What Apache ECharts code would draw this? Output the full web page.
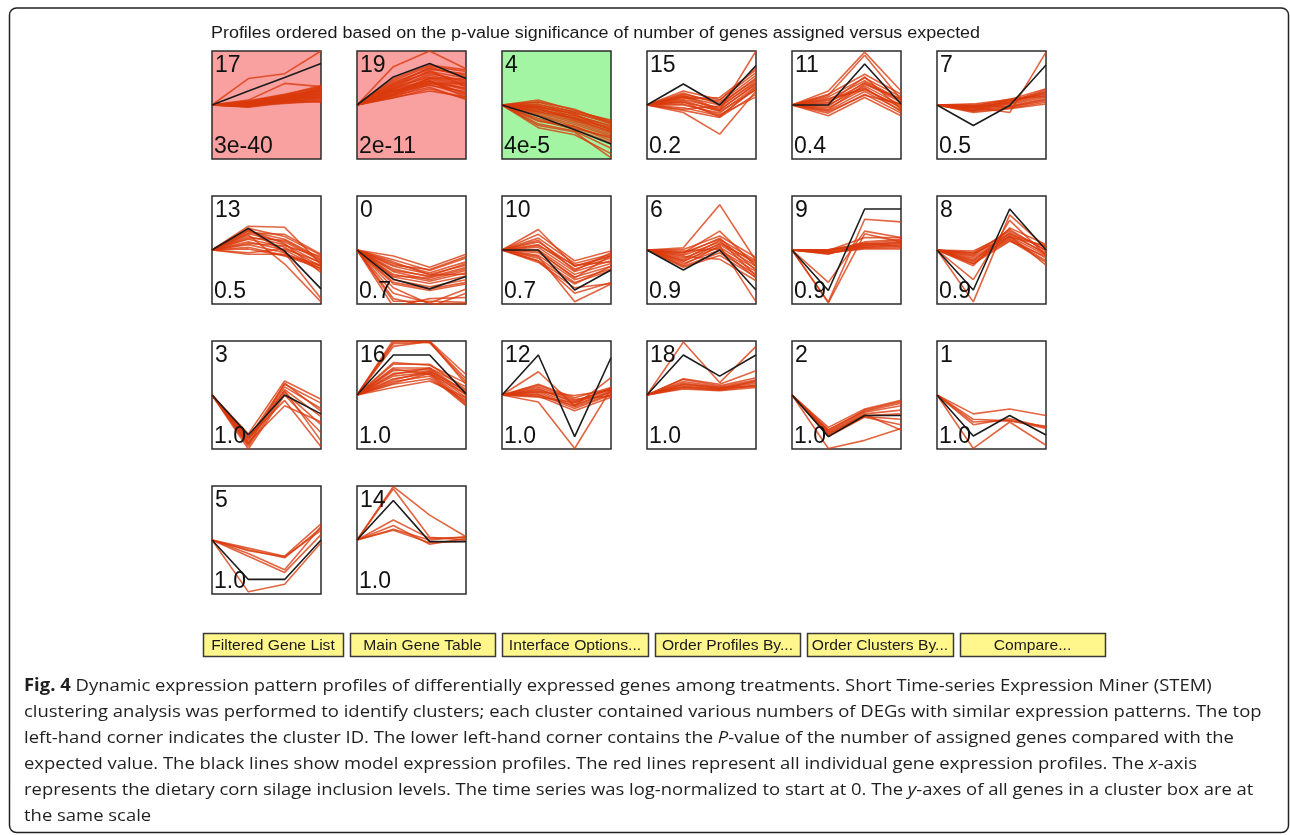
<!DOCTYPE html>
<html>
<head>
<meta charset="utf-8">
<title>STEM expression profiles</title>
<script src="https://cdn.jsdelivr.net/npm/echarts@6/dist/echarts.min.js"></script>
<style>
  html, body { margin: 0; padding: 0; background: #ffffff; }
  #chart { width: 1290px; height: 835px; }
</style>
</head>
<body>
<div id="chart"></div>
<script>
// ---- data -------------------------------------------------------------
// four inclusion levels on the x-axis (not labelled in the figure)
const levels = ['L0', 'L1', 'L2', 'L3'];

// profile order (by p-value) and their p-values
const clusterIds = [17, 19, 4, 15, 11, 7, 13, 0, 10, 6, 9, 8, 3, 16, 12, 18, 2, 1, 5, 14];
const pValues = ['3e-40', '2e-11', '4e-5', '0.2', '0.4', '0.5', '0.5', '0.7', '0.7', '0.9',
                 '0.9', '0.9', '1.0', '1.0', '1.0', '1.0', '1.0', '1.0', '1.0', '1.0'];
// significant profiles: 'up' = more genes than expected, 'down' = fewer
const significance = ['up', 'up', 'down', '', '', '', '', '', '', '', '', '', '', '', '', '', '', '', '', ''];

// model profiles (black), log-normalised, in each box's own y scale (-1 .. 1)
const modelProfiles = [
  [0, 0.26, 0.51, 0.77],   // 17
  [0, 0.52, 0.77, 0.49],   // 19
  [0, -0.21, -0.46, -0.72],// 4
  [0, 0.39, 0.00, 0.73],   // 15
  [0, 0.00, 0.76, 0.02],   // 11
  [0, -0.38, -0.01, 0.74], // 7
  [0, 0.40, -0.02, -0.72], // 13
  [0, -0.54, -0.72, -0.49],// 0
  [0, 0.00, -0.74, -0.37], // 10
  [0, -0.37, 0.00, -0.74], // 6
  [0, -0.75, 0.76, 0.76],  // 9
  [0, -0.74, 0.76, 0.00],  // 8
  [0, -0.74, 0.00, -0.35], // 3
  [0, 0.74, 0.74, 0.02],   // 16
  [0, 0.74, -0.77, 0.69],  // 12
  [0, 0.74, 0.35, 0.74],   // 18
  [0, -0.77, -0.38, -0.38],// 2
  [0, -0.76, -0.38, -0.74],// 1
  [0, -0.73, -0.73, 0.00], // 5
  [0, 0.73, -0.03, -0.03]  // 14
];

// individual gene profiles (red) per cluster
const genes17 = [
  [0, 0.49, 0.58, 1.00], [0, 0.09, 0.40, 0.34], [0, 0.02, 0.10, 0.20], [0, 0.00, 0.08, 0.15],
  [0, -0.03, 0.05, 0.10], [0, 0.04, 0.12, 0.25], [0, 0.06, 0.15, 0.30], [0, 0.01, 0.06, 0.12],
  [0, -0.02, 0.09, 0.18], [0, 0.03, 0.14, 0.22], [0, 0.05, 0.11, 0.28], [0, -0.04, 0.04, 0.08],
  [0, 0.02, 0.13, 0.32], [0, 0.07, 0.18, 0.27], [0, 0.00, 0.10, 0.24], [0, 0.03, 0.07, 0.16],
  [0, -0.01, 0.12, 0.21], [0, 0.05, 0.17, 0.34], [0, 0.01, 0.03, 0.07], [0, 0.04, 0.09, 0.19],
  [0, 0.08, 0.20, 0.33], [0, -0.02, 0.06, 0.13], [0, 0.02, 0.16, 0.26], [0, 0.06, 0.19, 0.36],
  [0, -0.03, 0.08, 0.05], [0, 0.04, 0.14, 0.14], [0, 0.01, 0.11, 0.30]
];
const genes19 = [
  [0, 0.71, 1.00, 0.67], [0, 0.45, 0.72, 0.62], [0, 0.40, 0.68, 0.55], [0, 0.35, 0.62, 0.50],
  [0, 0.30, 0.58, 0.45], [0, 0.28, 0.55, 0.40], [0, 0.25, 0.50, 0.35], [0, 0.22, 0.48, 0.30],
  [0, 0.20, 0.45, 0.28], [0, 0.18, 0.42, 0.22], [0, 0.15, 0.38, 0.18], [0, 0.13, 0.30, 0.12],
  [0, 0.27, 0.40, 0.32], [0, 0.33, 0.52, 0.38], [0, 0.24, 0.36, 0.25], [0, 0.38, 0.60, 0.42],
  [0, 0.17, 0.33, 0.10], [0, 0.42, 0.66, 0.58], [0, 0.20, 0.50, 0.48], [0, 0.30, 0.45, 0.20],
  [0, 0.48, 0.74, 0.65], [0, 0.14, 0.26, 0.15], [0, 0.36, 0.70, 0.52], [0, 0.26, 0.44, 0.14],
  [0, 0.32, 0.64, 0.34], [0, 0.19, 0.40, 0.40]
];
const genes4 = [
  [0, 0.09, -0.10, -0.30], [0, 0.05, -0.14, -0.35], [0, 0.02, -0.18, -0.40], [0, -0.02, -0.22, -0.42],
  [0, -0.05, -0.25, -0.45], [0, -0.08, -0.28, -0.48], [0, -0.10, -0.20, -0.38], [0, -0.12, -0.30, -0.52],
  [0, -0.15, -0.33, -0.55], [0, -0.18, -0.36, -0.58], [0, -0.03, -0.15, -0.32], [0, -0.07, -0.26, -0.50],
  [0, -0.20, -0.40, -0.62], [0, -0.25, -0.43, -0.60], [0, 0.00, -0.12, -0.28], [0, -0.13, -0.24, -0.44],
  [0, -0.30, -0.40, -0.66], [0, -0.38, -0.50, -0.98], [0, -0.42, -0.55, -0.90], [0, -0.35, -0.48, -0.80],
  [0, -0.28, -0.45, -0.70], [0, 0.06, -0.08, -0.34], [0, -0.04, -0.17, -0.47]
];
const genes15 = [
  [0, 0.15, -0.10, 1.00], [0, -0.14, -0.54, 0.26], [0, 0.26, 0.10, 0.60], [0, 0.20, 0.05, 0.55],
  [0, 0.15, 0.00, 0.50], [0, 0.10, -0.05, 0.45], [0, 0.05, -0.10, 0.40], [0, 0.00, -0.15, 0.35],
  [0, -0.05, -0.20, 0.30], [0, -0.10, -0.23, 0.20], [0, 0.12, 0.14, 0.65], [0, 0.18, -0.08, 0.38],
  [0, 0.08, -0.12, 0.28], [0, 0.22, 0.02, 0.48], [0, 0.02, -0.18, 0.15], [0, 0.16, 0.08, 0.69],
  [0, -0.08, -0.02, 0.42], [0, 0.06, -0.22, 0.33]
];
const genes11 = [
  [0, 0.26, 0.98, 0.26], [0, 0.18, 0.92, 0.10], [0, 0.20, 0.57, 0.20], [0, 0.15, 0.50, 0.15],
  [0, 0.10, 0.45, 0.10], [0, 0.05, 0.40, 0.05], [0, 0.00, 0.35, 0.00], [0, -0.05, 0.30, -0.05],
  [0, -0.10, 0.25, -0.10], [0, -0.15, 0.20, -0.15], [0, -0.20, 0.14, -0.20], [0, 0.08, 0.32, -0.12],
  [0, -0.02, 0.42, 0.08], [0, 0.12, 0.28, -0.02], [0, -0.08, 0.38, 0.12], [0, 0.03, 0.52, -0.08],
  [0, -0.12, 0.18, 0.02]
];
const genes7 = [
  [0, -0.04, -0.14, 0.98], [0, 0.02, 0.10, 0.30], [0, 0.00, 0.08, 0.25], [0, -0.02, 0.05, 0.22],
  [0, -0.04, 0.03, 0.18], [0, -0.06, 0.01, 0.15], [0, -0.08, -0.02, 0.12], [0, -0.10, -0.04, 0.08],
  [0, -0.12, -0.06, 0.05], [0, -0.14, -0.07, 0.02], [0, -0.05, 0.06, 0.28], [0, -0.09, 0.09, 0.20],
  [0, -0.01, -0.03, 0.10], [0, -0.11, 0.04, 0.24], [0, -0.03, 0.11, 0.16]
];
const genes13 = [
  [0, 0.44, 0.42, -0.26], [0, 0.28, -0.26, -0.96], [0, 0.38, -0.05, -0.90], [0, 0.40, 0.25, -0.10],
  [0, 0.35, 0.20, -0.15], [0, 0.30, 0.15, -0.20], [0, 0.25, 0.10, -0.25], [0, 0.20, 0.05, -0.30],
  [0, 0.15, 0.00, -0.35], [0, 0.10, -0.05, -0.38], [0, 0.05, -0.10, -0.30], [0, -0.05, 0.02, -0.22],
  [0, -0.08, -0.08, -0.28], [0, 0.32, 0.29, -0.08], [0, 0.22, 0.18, -0.18], [0, 0.12, 0.08, -0.12],
  [0, 0.36, 0.12, -0.42], [0, 0.02, -0.11, -0.34]
];
const genes0 = [
  [0, -0.11, -0.32, -0.08], [0, -0.18, -0.38, -0.15], [0, -0.25, -0.42, -0.22], [0, -0.30, -0.45, -0.28],
  [0, -0.35, -0.50, -0.32], [0, -0.40, -0.55, -0.38], [0, -0.45, -0.58, -0.42], [0, -0.50, -0.62, -0.48],
  [0, -0.55, -0.68, -0.55], [0, -0.60, -0.72, -0.60], [0, -0.63, -0.75, -0.63], [0, -0.28, -0.36, -0.12],
  [0, -0.38, -0.48, -0.25], [0, -0.48, -0.52, -0.35], [0, -0.22, -0.46, -0.45], [0, -0.90, -1.05, -0.80],
  [0, -0.95, -0.95, -0.97], [0, -1.05, -0.90, -0.88], [0, -0.80, -0.98, -0.72], [0, -0.70, -1.00, -1.00]
];
const genes10 = [
  [0, 0.38, -0.30, -0.10], [0, 0.29, -0.20, -0.02], [0, 0.22, -0.25, -0.08], [0, 0.15, -0.30, -0.12],
  [0, 0.10, -0.35, -0.15], [0, 0.05, -0.40, -0.20], [0, 0.00, -0.45, -0.25], [0, -0.05, -0.50, -0.30],
  [0, -0.10, -0.55, -0.35], [0, -0.15, -0.60, -0.38], [0, -0.20, -0.63, -0.30], [0, 0.18, -0.38, -0.05],
  [0, 0.08, -0.28, -0.22], [0, -0.02, -0.52, -0.10], [0, -0.23, -0.70, -0.62], [0, -0.12, -0.96, -0.63],
  [0, -0.20, -0.80, -0.60]
];
const genes6 = [
  [0, 0.04, 0.84, -0.20], [0, -0.05, 0.35, -0.30], [0, 0.01, 0.26, -0.14], [0, -0.05, 0.20, -0.20],
  [0, -0.10, 0.15, -0.25], [0, -0.15, 0.10, -0.30], [0, -0.20, 0.05, -0.35], [0, -0.25, 0.00, -0.40],
  [0, -0.30, -0.05, -0.45], [0, -0.32, -0.10, -0.50], [0, -0.12, -0.17, -0.57], [0, -0.08, 0.22, -0.38],
  [0, -0.18, 0.18, -0.48], [0, -0.22, 0.12, -0.22], [0, -0.28, 0.08, -0.96], [0, -0.02, 0.02, -0.52]
];
const genes9 = [
  [0, -0.96, 0.57, 0.52], [0, -0.60, 0.35, 0.23], [0, -0.98, 0.30, 0.15], [0, 0.01, 0.10, 0.15],
  [0, 0.00, 0.08, 0.12], [0, -0.02, 0.06, 0.10], [0, -0.04, 0.05, 0.08], [0, -0.06, 0.04, 0.05],
  [0, -0.08, 0.12, 0.18], [0, -0.03, 0.15, 0.20], [0, -0.01, 0.23, 0.23], [0, -0.05, 0.02, 0.02],
  [0, -0.07, 0.09, 0.14], [0, 0.00, 0.13, 0.06]
];
const genes8 = [
  [0, -0.96, 0.65, 0.05], [0, -0.55, 0.55, -0.10], [0, -0.02, 0.30, 0.05], [0, -0.05, 0.35, 0.00],
  [0, -0.08, 0.28, -0.05], [0, -0.12, 0.25, -0.10], [0, -0.15, 0.22, -0.15], [0, -0.18, 0.20, -0.20],
  [0, -0.22, 0.18, -0.23], [0, -0.25, 0.16, -0.12], [0, -0.29, 0.41, 0.10], [0, -0.10, 0.38, -0.02],
  [0, -0.20, 0.32, -0.08], [0, -0.06, 0.24, 0.08], [0, -0.26, 0.26, -0.28]
];
const genes3 = [
  [0, -0.72, 0.26, -0.08], [0, -0.80, 0.20, -0.15], [0, -0.85, 0.15, -0.25], [0, -0.90, 0.10, -0.40],
  [0, -0.95, 0.05, -0.55], [0, -1.00, 0.00, -0.70], [0, -0.78, -0.10, -0.96], [0, -0.88, -0.20, -0.50],
  [0, -0.92, 0.22, -0.30], [0, -0.82, 0.08, -0.85]
];
const genes16 = [
  [0, 0.98, 1.00, 0.38], [0, 0.95, 0.98, 0.30], [0, 1.02, 0.97, 0.25], [0, 0.90, 0.99, 0.20],
  [0, 0.57, 0.57, 0.10], [0, 0.50, 0.50, 0.05], [0, 0.45, 0.48, 0.00], [0, 0.40, 0.45, -0.05],
  [0, 0.35, 0.42, -0.10], [0, 0.30, 0.40, -0.15], [0, 0.25, 0.35, -0.20], [0, 0.20, 0.30, -0.12],
  [0, 0.14, 0.26, -0.05], [0, 0.38, 0.50, 0.15], [0, 0.28, 0.44, 0.08], [0, 0.48, 0.38, -0.18],
  [0, 0.22, 0.40, 0.02], [0, 0.60, 0.55, 0.22]
];
const genes12 = [
  [0, 0.43, -0.20, 0.32], [0, -0.13, -0.99, 0.11], [0, 0.20, -0.05, 0.14], [0, 0.15, -0.10, 0.10],
  [0, 0.12, -0.15, 0.08], [0, 0.08, -0.18, 0.05], [0, 0.05, -0.22, 0.02], [0, 0.02, -0.25, 0.00],
  [0, -0.02, -0.29, -0.04], [0, 0.10, -0.12, 0.12], [0, 0.00, -0.20, 0.06], [0, 0.18, -0.08, -0.02],
  [0, 0.06, -0.01, 0.09], [0, -0.04, -0.14, 0.13]
];
const genes18 = [
  [0, 0.98, 0.23, 0.90], [0, 0.30, 0.20, 0.45], [0, 0.29, 0.17, 0.32], [0, 0.25, 0.15, 0.28],
  [0, 0.22, 0.13, 0.25], [0, 0.19, 0.12, 0.22], [0, 0.16, 0.10, 0.19], [0, 0.13, 0.09, 0.17],
  [0, 0.11, 0.08, 0.14], [0, 0.20, 0.14, 0.16], [0, 0.15, 0.11, 0.26]
];
const genes2 = [
  [0, -0.99, -0.84, -0.62], [0, -0.60, -0.26, -0.10], [0, -0.64, -0.30, -0.15], [0, -0.68, -0.32, -0.20],
  [0, -0.70, -0.35, -0.28], [0, -0.72, -0.38, -0.35], [0, -0.75, -0.40, -0.45], [0, -0.77, -0.41, -0.55],
  [0, -0.66, -0.28, -0.12], [0, -0.73, -0.36, -0.65]
];
const genes1 = [
  [0, -0.35, -0.26, -0.38], [0, -0.50, -0.47, -0.62], [0, -0.99, -0.50, -0.93], [0, -0.55, -0.44, -0.60],
  [0, -0.45, -0.48, -0.58]
];
const genes5 = [
  [0, -0.15, -0.30, 0.30], [0, -0.18, -0.33, 0.22], [0, -0.25, -0.55, 0.25], [0, -0.96, -0.82, -0.05],
  [0, -0.20, -0.31, 0.18], [0, -0.30, -0.60, 0.10]
];
const genes14 = [
  [0, 0.99, 0.46, 0.06], [0, 0.95, 0.05, 0.00], [0, 0.37, 0.03, 0.05], [0, 0.27, -0.08, 0.03],
  [0, 0.18, -0.05, -0.02], [0, 0.20, 0.00, 0.06]
];
const geneProfiles = [genes17, genes19, genes4, genes15, genes11, genes7, genes13, genes0, genes10, genes6,
                      genes9, genes8, genes3, genes16, genes12, genes18, genes2, genes1, genes5, genes14];

const buttonLabels = ['Filtered Gene List', 'Main Gene Table', 'Interface Options...',
                      'Order Profiles By...', 'Order Clusters By...', 'Compare...'];

const headerText = 'Profiles ordered based on the p-value significance of number of genes assigned versus expected';
const captionLines = [
  '{b|Fig. 4} Dynamic expression pattern profiles of differentially expressed genes among treatments. Short Time-series Expression Miner (STEM)',
  'clustering analysis was performed to identify clusters; each cluster contained various numbers of DEGs with similar expression patterns. The top',
  'left-hand corner indicates the cluster ID. The lower left-hand corner contains the {i|P}-value of the number of assigned genes compared with the',
  'expected value. The black lines show model expression profiles. The red lines represent all individual gene expression profiles. The {i|x}-axis',
  'represents the dietary corn silage inclusion levels. The time series was log-normalized to start at 0. The {i|y}-axes of all genes in a cluster box are at',
  'the same scale'
];

// ---- layout -----------------------------------------------------------
const PANEL_COLS = 6;
const PANEL_LEFT = 212, PANEL_TOP = 51, PANEL_STEP = 145, PANEL_W = 109, PANEL_H = 108;
const BG = { up: '#F9A0A0', down: '#A3F4A3', '': '#ffffff' };
const SANS = '"Liberation Sans", Arial, Helvetica, sans-serif';
const CAPTION_FONT = '"Open Sans", "Noto Sans", sans-serif';

const grids = [], xAxes = [], yAxes = [], series = [], graphics = [];

clusterIds.forEach((id, k) => {
  const col = k % PANEL_COLS, row = Math.floor(k / PANEL_COLS);
  const left = PANEL_LEFT + col * PANEL_STEP;
  const top = PANEL_TOP + row * PANEL_STEP;
  grids.push({
    left, top, width: PANEL_W, height: PANEL_H,
    show: true, backgroundColor: BG[significance[k]],
    borderColor: '#2b2b2b', borderWidth: 1.5
  });
  xAxes.push({ gridIndex: k, type: 'category', data: levels, boundaryGap: false, show: false });
  yAxes.push({ gridIndex: k, type: 'value', min: -1, max: 1, show: false });

  geneProfiles[k].forEach(profile => {
    series.push({
      type: 'line', xAxisIndex: k, yAxisIndex: k, data: profile,
      symbol: 'none', silent: true, z: 2,
      lineStyle: { color: '#DA3A0B', width: 1.6, opacity: 0.78 }
    });
  });
  series.push({
    type: 'line', xAxisIndex: k, yAxisIndex: k, data: modelProfiles[k],
    symbol: 'none', silent: true, z: 3,
    lineStyle: { color: '#1c1c1c', width: 1.6 }
  });

  // cluster ID (top left) and p-value (bottom left)
  graphics.push({
    type: 'text', x: left + 3, y: top + 3, z: 10, silent: true,
    style: { x: 0, y: 0, text: String(id), fontFamily: SANS, fontSize: 23, fill: '#111111', verticalAlign: 'top' }
  });
  graphics.push({
    type: 'text', x: left + 2, y: top + PANEL_H - 1, z: 10, silent: true,
    style: { x: 0, y: 0, text: pValues[k], fontFamily: SANS, fontSize: 23, fill: '#111111', verticalAlign: 'bottom' }
  });
});

// outer rounded frame
graphics.push({
  type: 'rect', z: 0, silent: true,
  shape: { x: 9.5, y: 8, width: 1279, height: 824.5, r: 7 },
  style: { fill: 'none', stroke: '#222222', lineWidth: 1.5 }
});

// header line
graphics.push({
  type: 'text', x: 211, y: 34, scaleX: 1.12, silent: true,
  style: { x: 0, y: 0, text: headerText, fontFamily: SANS, fontSize: 16, fill: '#1a1a1a', verticalAlign: 'middle' }
});

// button row
const buttonEdges = [[203, 343], [350, 495], [502, 648], [655, 800], [807, 953], [960, 1105]];
buttonLabels.forEach((label, i) => {
  const [x0, x1] = buttonEdges[i];
  graphics.push({
    type: 'rect', silent: true,
    shape: { x: x0 + 0.5, y: 633.5, width: x1 - x0, height: 23 },
    style: { fill: '#FFF68C', stroke: '#3a3a3a', lineWidth: 1.5 }
  });
  graphics.push({
    type: 'text', silent: true, x: (x0 + x1) / 2, y: 645.5, scaleX: 1.08,
    style: {
      x: 0, y: 0, text: label, fontFamily: SANS, fontSize: 14.5,
      fill: '#1a1a1a', align: 'center', verticalAlign: 'middle'
    }
  });
});

// figure caption
const captionRich = {
  b: { fontFamily: CAPTION_FONT, fontSize: 17, fontWeight: 'bold', fill: '#1f1f1f' },
  i: { fontFamily: CAPTION_FONT, fontSize: 17, fontStyle: 'italic', fill: '#1f1f1f' }
};
captionLines.forEach((line, i) => {
  graphics.push({
    type: 'text', silent: true, x: 24, y: 686 + i * 26, scaleX: 1.085,
    style: {
      x: 0, y: 0, text: line, fontFamily: CAPTION_FONT, fontSize: 17,
      fill: '#1f1f1f', verticalAlign: 'middle', rich: captionRich
    }
  });
});

const chart = echarts.init(document.getElementById('chart'), null, { renderer: 'canvas' });
chart.setOption({
  animation: false,
  backgroundColor: '#ffffff',
  grid: grids,
  xAxis: xAxes,
  yAxis: yAxes,
  series: series,
  graphic: graphics
});
</script>
</body>
</html>
